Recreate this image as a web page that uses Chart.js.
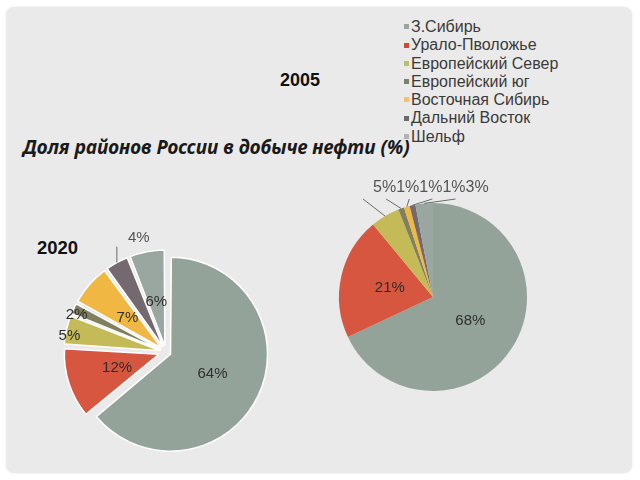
<!DOCTYPE html>
<html>
<head>
<meta charset="utf-8">
<script src="https://cdn.jsdelivr.net/npm/chart.js@4.4.1/dist/chart.umd.min.js"></script>
<style>
  html, body { margin: 0; padding: 0; width: 640px; height: 480px; overflow: hidden; background: #ffffff; }
  #panel {
    position: absolute; left: 6px; top: 7px; width: 626px; height: 466px;
    background: #eaeaea; border-radius: 8px;
    box-shadow: 0 0 3px rgba(0,0,0,0.08);
  }
  canvas { position: absolute; }
  .texto { position: absolute; white-space: nowrap; color: #111; }
  #titulo2005 { left: 280px; top: 70px; font: bold 18px "Liberation Sans", Arial, sans-serif; }
  #titulo2020 { left: 37px; top: 237px; font: bold 18.5px "Liberation Sans", Arial, sans-serif; }
  #tituloPrincipal { left: 23px; top: 134px; font: italic bold 19px "Noto Sans", sans-serif; color: #1a1a1a; }
  #leyenda { position: absolute; left: 404px; top: 18px; font: 16px "Liberation Sans", Arial, sans-serif; color: #3a3a3a; }
  #leyenda div { height: 18.3px; line-height: 18.3px; white-space: nowrap; }
  #leyenda span { display: inline-block; width: 5px; height: 5px; margin-right: 2px; vertical-align: middle; position: relative; top: -1px; }
</style>
</head>
<body>
<div id="panel"></div>
<div class="texto" id="titulo2005">2005</div>
<div class="texto" id="tituloPrincipal">Доля районов России в добыче нефти (%)</div>
<div class="texto" id="titulo2020">2020</div>
<div id="leyenda"></div>
<canvas id="grafica2020" width="240" height="240" style="left:46px; top:232px;"></canvas>
<canvas id="grafica2005" width="260" height="260" style="left:303px; top:167px;"></canvas>

<script>
// Datos
const regiones = ['З.Сибирь', 'Урало-Пволожье', 'Европейский Север', 'Европейский юг', 'Восточная Сибирь', 'Дальний Восток', 'Шельф'];
const valores2005 = [68, 21, 5, 1, 1, 1, 3];
const valores2020 = [64, 12, 5, 2, 7, 4, 6];
const colores = ['#94a39a', '#d6563f', '#c4bb58', '#80805f', '#f0b842', '#756970', '#9aa7a0'];
const coloresLeyenda = ['#9ea39f', '#d6453a', '#b7c06a', '#7a8070', '#f2c55c', '#6a6a6a', '#b0b4b2'];

// Leyenda (HTML)
const leyenda = document.getElementById('leyenda');
regiones.forEach((r, i) => {
    const fila = document.createElement('div');
    const marca = document.createElement('span');
    marca.style.background = coloresLeyenda[i];
    fila.appendChild(marca);
    fila.appendChild(document.createTextNode(r));
    leyenda.appendChild(fila);
});

// Chart.js desplaza cada arco offset/4 * (2 - sin(circunferencia)),
// esto da el desplazamiento real en pixeles
function desplazamientoReal(offset, circ) {
    return offset / 4 * (2 - Math.sin(Math.min(Math.PI, circ)));
}

// Plugin para las etiquetas de porcentaje
const etiquetasPlugin = {
    id: 'etiquetas',
    afterDatasetsDraw(chart, args, opts) {
        const ctx = chart.ctx;
        const meta = chart.getDatasetMeta(0);
        const datos = chart.data.datasets[0].data;
        let filaX = null;
        ctx.save();
        ctx.textBaseline = 'middle';
        ctx.strokeStyle = '#6b6b6b';
        ctx.lineWidth = 1;
        meta.data.forEach((arc, i) => {
            const p = arc.getProps(['x', 'y', 'startAngle', 'endAngle', 'outerRadius', 'circumference'], true);
            const mid = (p.startAngle + p.endAngle) / 2;
            const cos = Math.cos(mid), sin = Math.sin(mid);
            const offset = desplazamientoReal(arc.options.offset || 0, p.circumference);
            const texto = datos[i] + '%';
            const modo = opts.modos[i];
            const borde = offset + p.outerRadius;
            const bx = p.x + cos * borde, by = p.y + sin * borde;
            ctx.font = opts.font;

            if (modo === 'dentro') {
                const d = offset + p.outerRadius * opts.k;
                ctx.fillStyle = '#2e2e2e';
                ctx.textAlign = 'center';
                ctx.fillText(texto, p.x + cos * d, p.y + sin * d);
            } else if (modo === 'borde') {
                ctx.fillStyle = '#2e2e2e';
                ctx.textAlign = 'center';
                ctx.fillText(texto, bx + 3, by + 6);
            } else if (modo === 'arriba') {
                // linea vertical hacia arriba y texto a la derecha
                ctx.beginPath();
                ctx.moveTo(bx, by);
                ctx.lineTo(bx, by - 16);
                ctx.stroke();
                ctx.fillStyle = '#555555';
                ctx.textAlign = 'center';
                ctx.fillText(texto, bx + 22, by - 25);
            } else if (modo === 'fila') {
                ctx.font = opts.fontFila;
                if (filaX === null) filaX = p.x + opts.filaDx;
                const y = p.y + opts.filaDy;
                const w = ctx.measureText(texto).width;
                ctx.beginPath();
                ctx.moveTo(bx, by);
                ctx.lineTo(filaX - 10, y + 11);
                ctx.stroke();
                ctx.fillStyle = '#555555';
                ctx.textAlign = 'left';
                ctx.fillText(texto, filaX, y);
                filaX += w;
            }
        });
        ctx.restore();
    }
};

function crearPastel(id, valores, radio, separacion, borde, opcionesEtiquetas) {
    const ctx = document.getElementById(id).getContext('2d');
    const total = valores.reduce((a, b) => a + b, 0);
    return new Chart(ctx, {
        type: 'pie',
        data: {
            labels: regiones,
            datasets: [{
                data: valores,
                backgroundColor: colores,
                borderColor: '#ffffff',
                borderWidth: borde,
                // offset tal que todas las porciones se separen "separacion" px
                offset: (c) => {
                    if (!separacion) return 0;
                    const circ = c.raw / total * Math.PI * 2;
                    return separacion * 4 / (2 - Math.sin(Math.min(Math.PI, circ)));
                }
            }]
        },
        options: {
            responsive: false,
            animation: false,
            radius: radio,
            layout: { padding: 0 },
            plugins: {
                legend: { display: false },
                tooltip: { enabled: false },
                etiquetas: opcionesEtiquetas
            }
        },
        plugins: [etiquetasPlugin]
    });
}

// 2020: pastel separado
crearPastel('grafica2020', valores2020, 92, 10, 1.5, {
    font: '15px "Liberation Sans", Arial, sans-serif',
    k: 0.45,
    modos: ['dentro', 'dentro', 'borde', 'borde', 'dentro', 'arriba', 'dentro']
});

// 2005
crearPastel('grafica2005', valores2005, 94, 0, 0, {
    font: '15px "Liberation Sans", Arial, sans-serif',
    fontFila: '16px "Liberation Sans", Arial, sans-serif',
    k: 0.47,
    filaDx: -60,
    filaDy: -109,
    modos: ['dentro', 'dentro', 'fila', 'fila', 'fila', 'fila', 'fila']
});
</script>
</body>
</html>
